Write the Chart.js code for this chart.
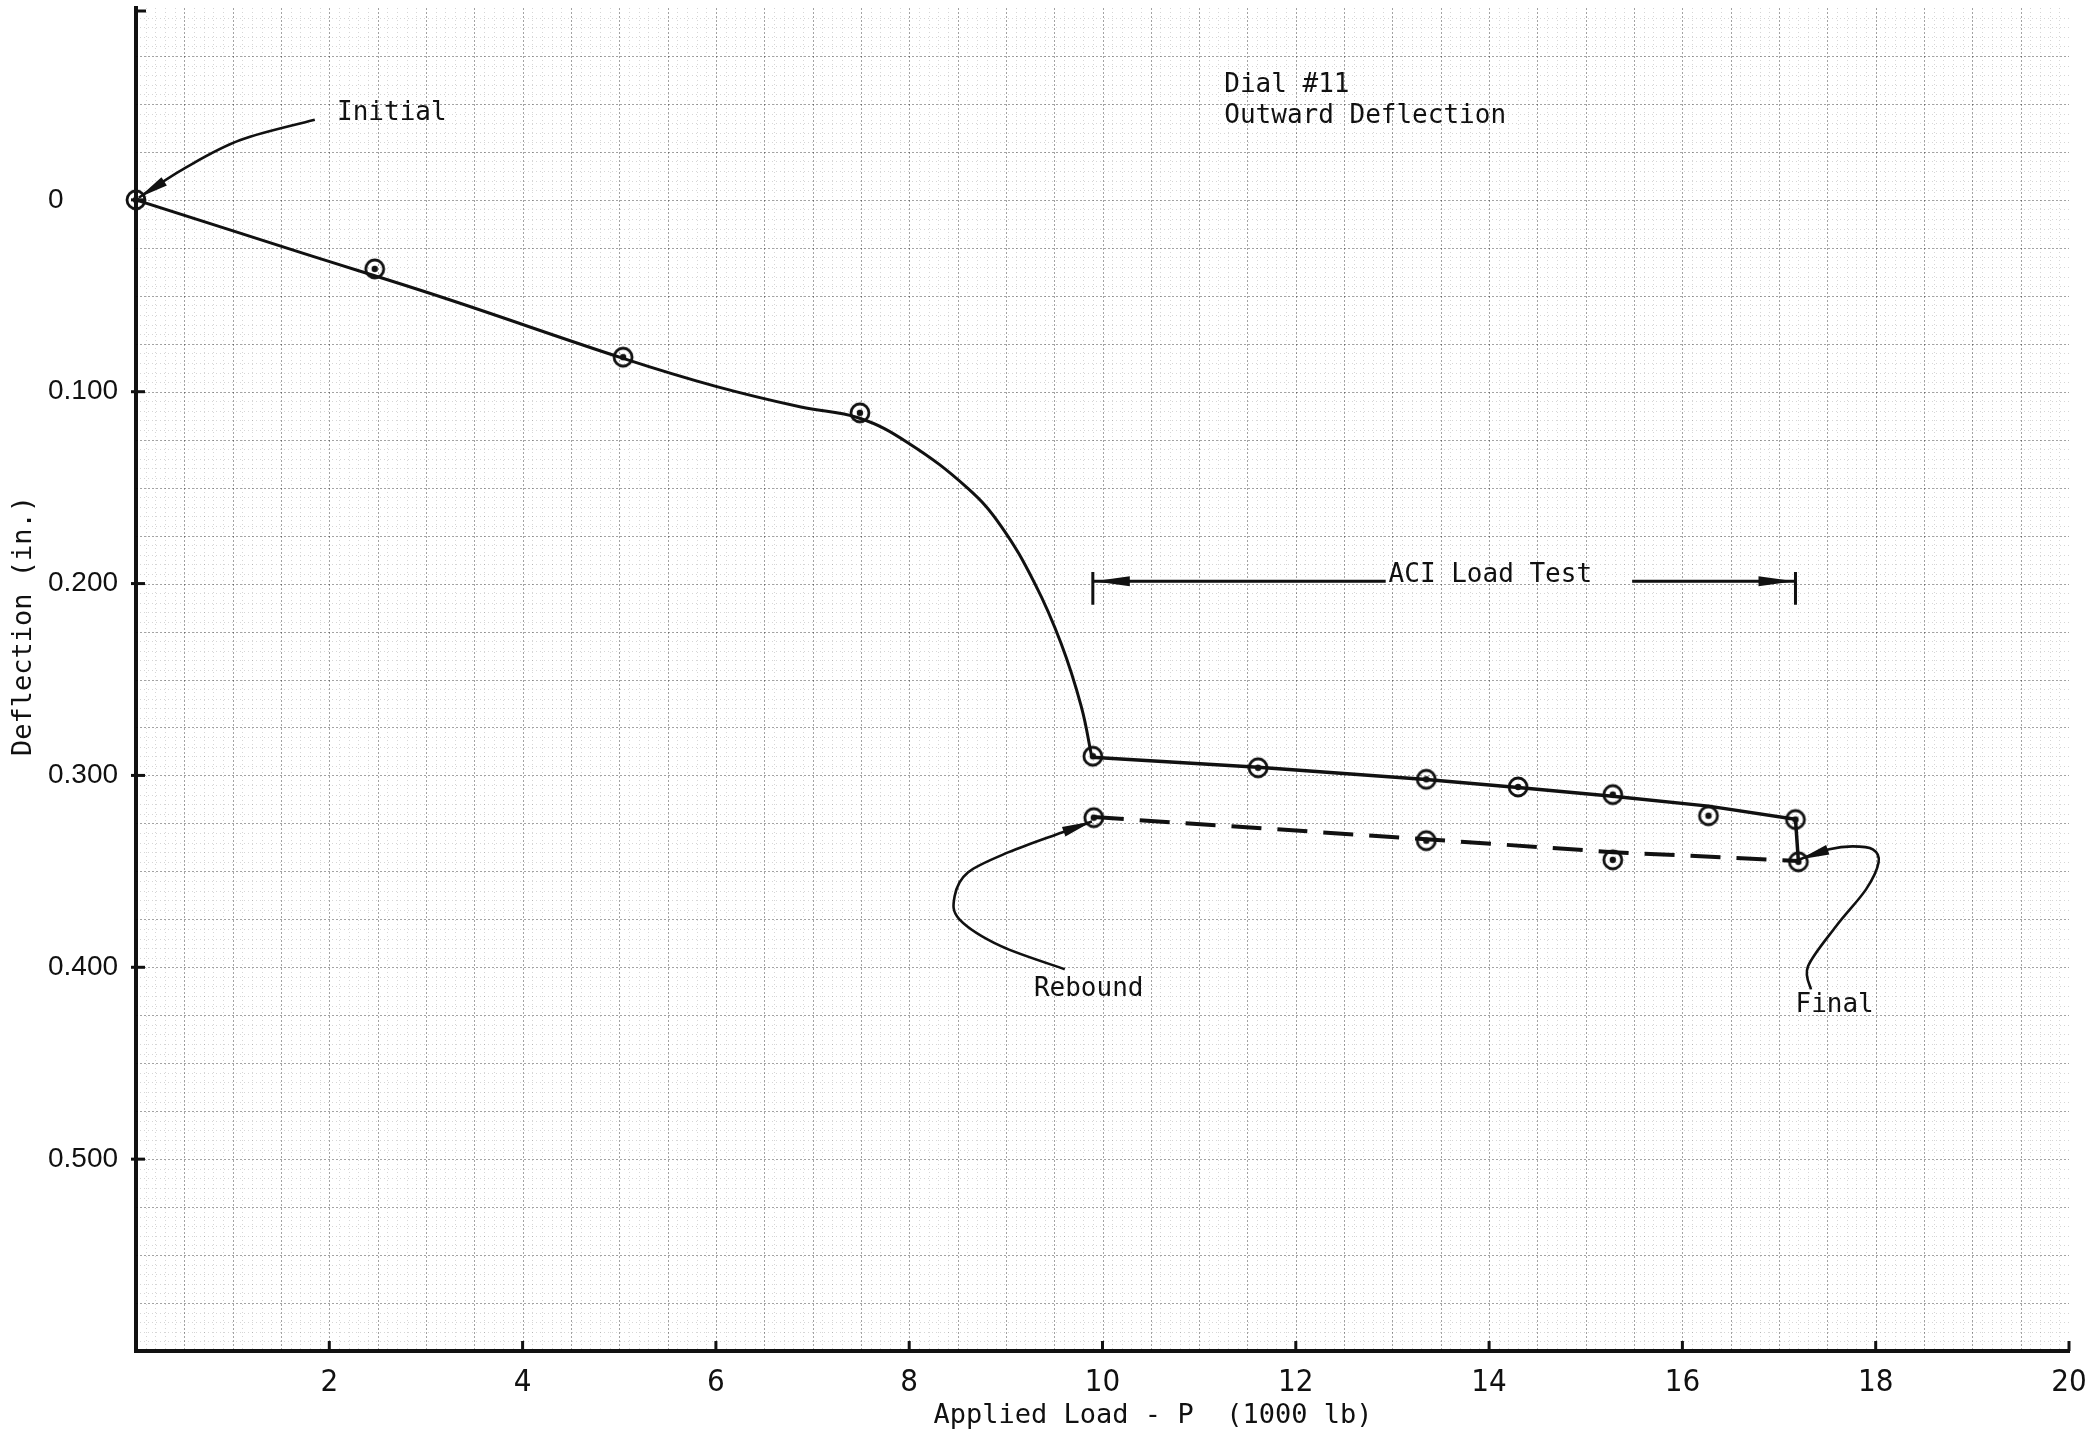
<!DOCTYPE html>
<html>
<head>
<meta charset="utf-8">
<script src="https://cdn.jsdelivr.net/npm/chart.js@4.4.0/dist/chart.umd.min.js"></script>
<style>
  html, body { margin: 0; padding: 0; background: #fff; }
</style>
</head>
<body>
<canvas id="chart" width="2093" height="1439"></canvas>
<script>
// measured dial readings, loading then ACI load test (1000 lb, in.)
const loadP    = [0, 2.47, 5.04, 7.49, 9.90, 11.61, 13.35, 14.30, 15.28, 16.27, 17.17];
const loadDefl = [0, 0.036, 0.082, 0.111, 0.290, 0.296, 0.302, 0.306, 0.310, 0.321, 0.323];

// rebound readings after unloading
const reboundP    = [9.91, 13.35, 15.28, 17.20];
const reboundDefl = [0.322, 0.334, 0.344, 0.345];

// hand-drawn fitted curves read from the sheet
const curveP    = [0, 1.70, 3.15, 5.04, 6.00, 6.88, 7.48, 7.99, 8.61, 8.95, 9.30, 9.57, 9.78, 9.89];
const curveDefl = [0, 0.0274, 0.0505, 0.0826, 0.0972, 0.1080, 0.1137, 0.1267, 0.1505, 0.1700, 0.2000, 0.2310, 0.2640, 0.2905];
const aciP      = [9.89, 11.61, 13.35, 14.30, 15.28, 16.27, 17.17, 17.20];
const aciDefl   = [0.2905, 0.2957, 0.3021, 0.3063, 0.3109, 0.3160, 0.3229, 0.3446];
const rbFitP    = [9.91, 13.35, 15.28, 17.20];
const rbFitDefl = [0.3217, 0.3333, 0.3400, 0.3446];

const xTicks = [2, 4, 6, 8, 10, 12, 14, 16, 18, 20];
const yTicks = [0, 0.1, 0.2, 0.3, 0.4, 0.5];

const INK = '#111';
const MONO = '"DejaVu Sans Mono", "Liberation Mono", monospace';

const pts = (xs, ys) => xs.map((v, i) => ({ x: v, y: ys[i] }));

/* ── circled-dot marker ── */
function ringDot() {
  const c = document.createElement('canvas');
  c.width = c.height = 26;
  const g = c.getContext('2d');
  g.strokeStyle = INK;
  g.lineWidth = 2.8;
  g.beginPath(); g.arc(13, 13, 9, 0, Math.PI * 2); g.stroke();
  g.fillStyle = INK;
  g.beginPath(); g.arc(13, 13, 3.2, 0, Math.PI * 2); g.fill();
  return c;
}
const marker = ringDot();

/* ── annotations (data units) ── */
const labels = [
  { text: 'Initial', x: 2.08, y: -0.0417 },
  { text: 'Dial #11', x: 11.26, y: -0.0563 },
  { text: 'Outward Deflection', x: 11.26, y: -0.0400 },
  { text: 'ACI Load Test', x: 12.96, y: 0.1992 },
  { text: 'Rebound', x: 9.29, y: 0.4151 },
  { text: 'Final', x: 17.17, y: 0.4234 },
];
const pointers = [
  [[1.85, -0.0417], [1.08, -0.0312], [0.51, -0.0167], [0.03, -0.0012]],
  [[9.61, 0.401], [8.95, 0.389], [8.52, 0.375], [8.47, 0.363], [8.61, 0.3505], [9.03, 0.340], [9.58, 0.3297], [9.89, 0.324]],
  [[17.33, 0.4115], [17.30, 0.3995], [17.59, 0.3786], [17.90, 0.3594], [18.03, 0.3453], [17.97, 0.3385], [17.76, 0.337], [17.52, 0.3385], [17.21, 0.3438]],
];
const aciSpan = { from: 9.90, to: 17.17, y: 0.1988, textStart: 12.93, textEnd: 15.48, barTop: 0.194, barBot: 0.211 };

function arrowHead(ctx, fx, fy, tx, ty, len, half) {
  const a = Math.atan2(ty - fy, tx - fx);
  ctx.beginPath();
  ctx.moveTo(tx, ty);
  ctx.lineTo(tx - len * Math.cos(a) + half * Math.sin(a), ty - len * Math.sin(a) - half * Math.cos(a));
  ctx.lineTo(tx - len * Math.cos(a) - half * Math.sin(a), ty - len * Math.sin(a) + half * Math.cos(a));
  ctx.closePath();
  ctx.fill();
}

function smoothPath(ctx, p) {
  ctx.beginPath();
  ctx.moveTo(p[0][0], p[0][1]);
  for (let i = 0; i < p.length - 1; i++) {
    const p0 = p[i - 1] || p[i], p1 = p[i], p2 = p[i + 1], p3 = p[i + 2] || p2;
    ctx.bezierCurveTo(
      p1[0] + (p2[0] - p0[0]) / 6, p1[1] + (p2[1] - p0[1]) / 6,
      p2[0] - (p3[0] - p1[0]) / 6, p2[1] - (p3[1] - p1[1]) / 6,
      p2[0], p2[1]);
  }
  ctx.stroke();
}

/* ── graph paper behind the data ── */
const paperPlugin = {
  id: 'paper',
  beforeDatasetsDraw(chart) {
    const { ctx, chartArea: a, scales: { x, y } } = chart;
    ctx.save();
    ctx.lineWidth = 1;
    for (let i = 1; i < 200; i++) {
      const px = Math.round(x.getPixelForValue(i / 10)) + 0.5;
      const major = i % 5 === 0;
      ctx.strokeStyle = major ? 'rgba(0,0,0,0.36)' : 'rgba(0,0,0,0.16)';
      ctx.setLineDash(major ? [2, 2] : [1, 3]);
      ctx.beginPath(); ctx.moveTo(px, a.top); ctx.lineTo(px, a.bottom); ctx.stroke();
    }
    for (let j = -19; j < 120; j++) {
      const py = Math.round(y.getPixelForValue(j / 200)) + 0.5;
      const major = j % 5 === 0;
      ctx.strokeStyle = major ? 'rgba(0,0,0,0.36)' : 'rgba(0,0,0,0.16)';
      ctx.setLineDash(major ? [2, 2] : [1, 3]);
      ctx.beginPath(); ctx.moveTo(a.left, py); ctx.lineTo(a.right, py); ctx.stroke();
    }
    ctx.restore();
  },
};

/* ── notes, arrows, inward ticks, axis titles ── */
const notesPlugin = {
  id: 'notes',
  afterDraw(chart) {
    const { ctx, chartArea: a, scales: { x, y } } = chart;
    ctx.save();
    ctx.fillStyle = INK;
    ctx.strokeStyle = INK;
    ctx.setLineDash([]);

    // inward ticks
    ctx.lineWidth = 3;
    xTicks.forEach(v => {
      const px = x.getPixelForValue(v);
      ctx.beginPath(); ctx.moveTo(px, a.bottom); ctx.lineTo(px, a.bottom - 10); ctx.stroke();
    });
    yTicks.forEach(v => {
      const py = y.getPixelForValue(v);
      ctx.beginPath(); ctx.moveTo(a.left - 5, py); ctx.lineTo(a.left + 9, py); ctx.stroke();
    });
    ctx.beginPath(); ctx.moveTo(a.left, a.top + 3); ctx.lineTo(a.left + 10, a.top + 3); ctx.stroke();

    // text labels
    ctx.font = '26px ' + MONO;
    ctx.textBaseline = 'alphabetic';
    ctx.textAlign = 'left';
    labels.forEach(l => ctx.fillText(l.text, x.getPixelForValue(l.x), y.getPixelForValue(l.y)));

    // curved pointers
    ctx.lineWidth = 2.6;
    pointers.forEach(path => {
      const p = path.map(([vx, vy]) => [x.getPixelForValue(vx), y.getPixelForValue(vy)]);
      smoothPath(ctx, p);
      const tip = p[p.length - 1], prev = p[p.length - 2];
      arrowHead(ctx, prev[0], prev[1], tip[0], tip[1], 30, 5);
    });

    // ACI load test span
    const ay = y.getPixelForValue(aciSpan.y);
    const x0 = x.getPixelForValue(aciSpan.from), x1 = x.getPixelForValue(aciSpan.to);
    ctx.lineWidth = 3;
    ctx.beginPath();
    ctx.moveTo(x0, ay); ctx.lineTo(x.getPixelForValue(aciSpan.textStart), ay);
    ctx.moveTo(x.getPixelForValue(aciSpan.textEnd), ay); ctx.lineTo(x1, ay);
    [x0, x1].forEach(bx => {
      ctx.moveTo(bx, y.getPixelForValue(aciSpan.barTop));
      ctx.lineTo(bx, y.getPixelForValue(aciSpan.barBot));
    });
    ctx.stroke();
    arrowHead(ctx, x0 + 50, ay, x0 + 1, ay, 36, 5);
    arrowHead(ctx, x1 - 50, ay, x1 - 1, ay, 36, 5);

    // axis titles
    ctx.font = '27px ' + MONO;
    ctx.textAlign = 'center';
    ctx.textBaseline = 'middle';
    ctx.fillText('Applied Load - P  (1000 lb)', 1153, 1416);
    ctx.translate(24, 626);
    ctx.rotate(-Math.PI / 2);
    ctx.fillText('Deflection (in.)', 0, 0);
    ctx.restore();
  },
};

const noPad = s => { s.paddingTop = 0; s.paddingBottom = 0; s.paddingLeft = 0; s.paddingRight = 0; };

new Chart(document.getElementById('chart'), {
  type: 'scatter',
  data: {
    datasets: [
      {
        label: 'Readings',
        data: pts(loadP, loadDefl),
        showLine: false,
        pointStyle: marker,
        clip: false,
      },
      {
        label: 'Rebound readings',
        data: pts(reboundP, reboundDefl),
        showLine: false,
        pointStyle: marker,
        clip: false,
      },
      {
        label: 'Loading curve',
        data: pts(curveP, curveDefl),
        showLine: true,
        borderColor: INK,
        borderWidth: 3,
        tension: 0.4,
        pointRadius: 0,
      },
      {
        label: 'ACI load test',
        data: pts(aciP, aciDefl),
        showLine: true,
        borderColor: INK,
        borderWidth: 3.5,
        pointRadius: 0,
      },
      {
        label: 'Rebound',
        data: pts(rbFitP, rbFitDefl),
        showLine: true,
        borderColor: INK,
        borderWidth: 4,
        borderDash: [30, 16],
        pointRadius: 0,
      },
    ],
  },
  options: {
    responsive: false,
    animation: false,
    layout: { padding: { left: 48, right: 24, top: 8, bottom: 0 } },
    plugins: { legend: { display: false }, tooltip: { enabled: false } },
    scales: {
      x: {
        type: 'linear',
        min: 0,
        max: 20,
        grid: { display: false },
        border: { color: INK, width: 4 },
        ticks: {
          stepSize: 2,
          padding: 5,
          color: INK,
          font: { family: '"Liberation Sans Narrow", "DejaVu Sans Condensed", sans-serif', size: 31 },
          callback: v => (v === 0 ? null : String(v)),
        },
        afterFit: s => { s.height = 88; noPad(s); },
      },
      y: {
        type: 'linear',
        reverse: true,
        min: -0.1,
        max: 0.6,
        grid: { display: false },
        border: { color: INK, width: 4 },
        ticks: {
          stepSize: 0.1,
          crossAlign: 'far',
          color: INK,
          font: { family: '"Liberation Sans", Arial, sans-serif', size: 28 },
          callback: v => {
            const r = Math.round(v * 1000) / 1000;
            if (r < 0 || r > 0.55) return null;
            return r === 0 ? '0' : r.toFixed(3);
          },
        },
        afterFit: s => { s.width = 88; noPad(s); },
      },
    },
  },
  plugins: [paperPlugin, notesPlugin],
});
</script>
</body>
</html>
